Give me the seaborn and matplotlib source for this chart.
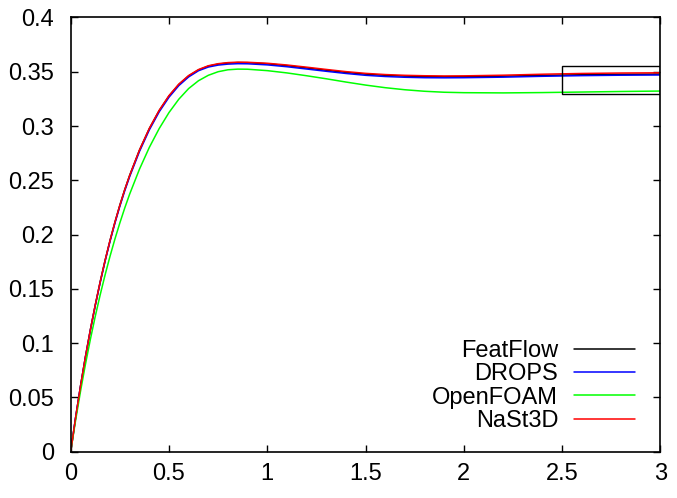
import numpy as np
import pandas as pd
import matplotlib
matplotlib.use("Agg")
import matplotlib.pyplot as plt
from matplotlib.patches import Rectangle
from matplotlib.ticker import FormatStrFormatter, MultipleLocator
import seaborn as sns

# Rise velocity of the bubble over time for four solvers
t = [0.0, 0.025, 0.05, 0.075, 0.1, 0.125, 0.15, 0.175, 0.2, 0.225, 0.25,
     0.275, 0.3, 0.35, 0.4, 0.45, 0.5, 0.55, 0.6, 0.65, 0.7, 0.75, 0.8,
     0.85, 0.9, 1.0, 1.1, 1.2, 1.3, 1.4, 1.5, 1.6, 1.7, 1.8, 1.9, 2.0,
     2.2, 2.4, 2.6, 2.8, 3.0]

featflow = [0.0, 0.0314, 0.0605, 0.0874, 0.1122, 0.1351, 0.1564, 0.1762,
            0.1945, 0.2114, 0.2270, 0.2414, 0.2545, 0.2778, 0.2976, 0.3141,
            0.3276, 0.3382, 0.3461, 0.3516, 0.3551, 0.3570, 0.3580, 0.3584,
            0.3583, 0.3573, 0.3556, 0.3535, 0.3514, 0.3494, 0.3478, 0.3467,
            0.3460, 0.3456, 0.3454, 0.3455, 0.3459, 0.3466, 0.3472, 0.3476,
            0.3478]

drops = [0.0, 0.0313, 0.0603, 0.0871, 0.1118, 0.1346, 0.1558, 0.1755,
         0.1937, 0.2105, 0.2260, 0.2403, 0.2534, 0.2766, 0.2964, 0.3130,
         0.3265, 0.3372, 0.3452, 0.3509, 0.3543, 0.3561, 0.3570, 0.3574,
         0.3573, 0.3563, 0.3546, 0.3525, 0.3504, 0.3484, 0.3467, 0.3456,
         0.3449, 0.3445, 0.3444, 0.3445, 0.3450, 0.3458, 0.3464, 0.3468,
         0.3470]

openfoam = [0.0, 0.0289, 0.0557, 0.0805, 0.1034, 0.1247, 0.1445, 0.1629,
            0.1800, 0.1959, 0.2107, 0.2245, 0.2373, 0.2603, 0.2803, 0.2976,
            0.3124, 0.3247, 0.3345, 0.3417, 0.3467, 0.3500, 0.3518, 0.3524,
            0.3523, 0.3510, 0.3489, 0.3463, 0.3435, 0.3405, 0.3377, 0.3353,
            0.3334, 0.3320, 0.3311, 0.3307, 0.3305, 0.3308, 0.3313, 0.3318,
            0.3322]

nast3d = [0.0, 0.0314, 0.0605, 0.0874, 0.1122, 0.1351, 0.1564, 0.1762,
          0.1945, 0.2114, 0.2270, 0.2414, 0.2545, 0.2779, 0.2978, 0.3144,
          0.3280, 0.3386, 0.3465, 0.3520, 0.3555, 0.3574, 0.3584, 0.3588,
          0.3587, 0.3578, 0.3562, 0.3542, 0.3521, 0.3501, 0.3485, 0.3474,
          0.3467, 0.3463, 0.3461, 0.3462, 0.3468, 0.3477, 0.3484, 0.3488,
          0.3490]

labels = ["FeatFlow", "DROPS", "OpenFOAM", "NaSt3D"]
colors = ["#000000", "#0000ff", "#00ff00", "#ff0000"]

# Highlighted window at late times
box_t = (2.5, 3.0)
box_v = (0.3297, 0.3555)

df = pd.concat(
    [pd.DataFrame({"t": t, "v": vals, "code": name})
     for name, vals in zip(labels, [featflow, drops, openfoam, nast3d])],
    ignore_index=True,
)

sns.set_style("ticks")
plt.rcParams["font.family"] = ["Liberation Sans", "DejaVu Sans"]
plt.rcParams["text.color"] = "black"

fig = plt.figure(figsize=(6.77, 4.98), dpi=100)
ax = fig.add_axes([0.1044, 0.0928, 0.8712, 0.8722])

sns.lineplot(data=df, x="t", y="v", hue="code", hue_order=labels,
             palette=colors, linewidth=1.1, ax=ax, legend=True)

ax.add_patch(Rectangle((box_t[0], box_v[0]), box_t[1] - box_t[0],
                       box_v[1] - box_v[0], fill=False, edgecolor="black",
                       linewidth=1.0, zorder=5))

ax.set_xlim(0, 3)
ax.set_ylim(0, 0.4)
ax.xaxis.set_major_locator(MultipleLocator(0.5))
ax.yaxis.set_major_locator(MultipleLocator(0.05))
ax.xaxis.set_major_formatter(FormatStrFormatter("%g"))
ax.yaxis.set_major_formatter(FormatStrFormatter("%g"))
ax.set_xlabel("")
ax.set_ylabel("")

for side in ax.spines.values():
    side.set_visible(True)
    side.set_linewidth(1.2)
    side.set_color("black")
ax.tick_params(direction="in", length=5, width=1.0, top=True, right=True,
               labelsize=17, colors="black")
ax.tick_params(axis="x", pad=8)
ax.tick_params(axis="y", pad=12)

handles, lbls = ax.get_legend_handles_labels()
leg = ax.legend(handles, lbls, loc="lower right", bbox_to_anchor=(0.985, 0.008),
                frameon=False, fontsize=17, markerfirst=False, handlelength=2.6,
                handletextpad=0.65, labelspacing=0.05, borderpad=0.2)
for txt in leg.get_texts():
    txt.set_color("black")

fig.savefig("out.png", dpi=100)
